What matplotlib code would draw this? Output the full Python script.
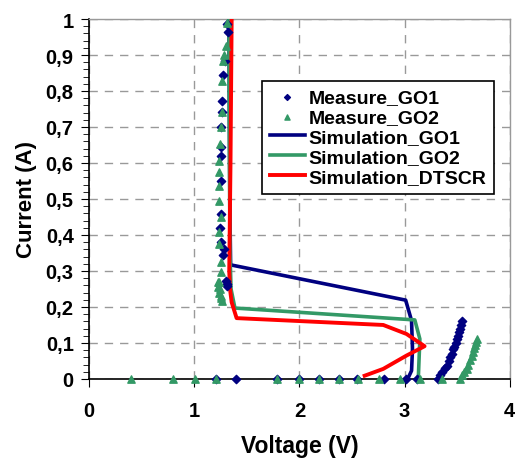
import numpy as np
import matplotlib.pyplot as plt
from matplotlib.ticker import MultipleLocator, FuncFormatter

plt.rcParams['font.family'] = ['Liberation Sans', 'DejaVu Sans']
plt.rcParams['font.weight'] = 'bold'

# measured data, GO1 (diamonds)
meas_go1_v = [1.308, 1.317, 1.292, 1.276, 1.267, 1.26, 1.254, 1.251, 1.254, 1.257,
              1.251, 1.245, 1.25, 1.283, 1.27, 1.30, 1.31, 1.315,
              1.207, 1.397, 1.79, 1.995, 2.185, 2.378, 2.543, 2.80, 3.01, 3.12,
              3.32, 3.34, 3.36, 3.38, 3.40, 3.42, 3.43, 3.45, 3.46, 3.47, 3.49,
              3.50, 3.51, 3.52, 3.53, 3.54, 3.55]
meas_go1_i = [0.986, 0.963, 0.884, 0.844, 0.773, 0.741, 0.70, 0.644, 0.62, 0.551,
              0.458, 0.419, 0.38, 0.361, 0.343, 0.273, 0.264, 0.257,
              0.0, 0.0, 0.0, 0.0, 0.0, 0.0, 0.0, 0.0, 0.0, 0.0,
              0.0, 0.01, 0.02, 0.03, 0.037, 0.05, 0.06, 0.07, 0.083, 0.09, 0.10,
              0.11, 0.12, 0.13, 0.14, 0.15, 0.16]

# measured data, GO2 (triangles)
meas_go2_v = [1.308, 1.30, 1.286, 1.276, 1.267, 1.26, 1.25, 1.245, 1.238, 1.235,
              1.238, 1.235, 1.254, 1.238, 1.235, 1.254, 1.25, 1.238, 1.245, 1.254,
              1.263, 1.226, 1.23, 1.24, 1.25,
              0.40, 0.795, 1.007, 1.207, 1.79, 1.995, 2.185, 2.378, 2.56, 2.755,
              2.96, 3.15, 3.357,
              3.525, 3.545, 3.565, 3.59, 3.605, 3.62, 3.636, 3.65, 3.66, 3.67, 3.68, 3.69]
meas_go2_i = [0.99, 0.926, 0.90, 0.882, 0.829, 0.741, 0.70, 0.653, 0.606, 0.574,
              0.537, 0.495, 0.449, 0.407, 0.375, 0.324, 0.296, 0.269, 0.25, 0.231,
              0.217, 0.27, 0.255, 0.24, 0.225,
              0.0, 0.0, 0.0, 0.0, 0.0, 0.0, 0.0, 0.0, 0.0, 0.0,
              0.0, 0.0, 0.0,
              0.0, 0.01, 0.02, 0.028, 0.04, 0.052, 0.065, 0.075, 0.085, 0.095, 0.104, 0.111]

# simulations
sim_go1_v = [1.33, 1.335, 1.34, 1.346, 3.01, 3.066, 3.075, 3.066, 3.034, 3.01]
sim_go1_i = [1.0, 0.7, 0.45, 0.317, 0.219, 0.162, 0.083, 0.023, 0.003, 0.0]

sim_go2_v = [1.33, 1.335, 1.34, 1.35, 1.387, 3.097, 3.145, 3.13]
sim_go2_i = [1.0, 0.6, 0.35, 0.25, 0.197, 0.164, 0.111, 0.0]

sim_dtscr_v = [1.356, 1.345, 1.333, 1.34, 1.356, 1.403, 2.797, 3.018, 3.19, 3.018, 2.797, 2.62]
sim_dtscr_i = [1.0, 0.6, 0.3, 0.25, 0.213, 0.169, 0.15, 0.125, 0.091, 0.065, 0.028, 0.009]

navy = '#000080'
green = '#339966'
red = '#ff0000'

fig = plt.figure(figsize=(5.16, 4.6), dpi=100)
ax = fig.add_axes([0.1725, 0.174, 0.8155, 0.7825])

ax.plot(sim_go1_v, sim_go1_i, color=navy, lw=2.6, label='Simulation_GO1', zorder=3)
ax.plot(sim_go2_v, sim_go2_i, color=green, lw=2.6, label='Simulation_GO2', zorder=3)
ax.plot(sim_dtscr_v, sim_dtscr_i, color=red, lw=2.8, label='Simulation_DTSCR', zorder=4)
ax.scatter(meas_go1_v, meas_go1_i, marker='D', s=18, color=navy, label='Measure_GO1', zorder=5, clip_on=False)
ax.scatter(meas_go2_v, meas_go2_i, marker='^', s=28, color=green, label='Measure_GO2', zorder=5, clip_on=False)

ax.set_xlim(0, 4)
ax.set_ylim(0, 1)
ax.xaxis.set_major_locator(MultipleLocator(1))
ax.yaxis.set_major_locator(MultipleLocator(0.1))
ax.yaxis.set_minor_locator(MultipleLocator(0.02))
ax.yaxis.set_major_formatter(FuncFormatter(lambda v, p: ('%g' % round(v, 2)).replace('.', ',')))

ax.grid(True, which='major', color='#999999', linestyle=(0, (6, 5)), lw=1)
ax.set_axisbelow(True)

for s in ['top', 'right']:
    ax.spines[s].set_color('#999999')
    ax.spines[s].set_linewidth(1)
for s in ['left', 'bottom']:
    ax.spines[s].set_linewidth(1.2)

ax.tick_params(axis='both', which='major', direction='out', length=6, labelsize=14.5)
ax.tick_params(axis='x', which='major', pad=10)
ax.tick_params(axis='y', which='major', pad=5)
ax.tick_params(axis='y', which='minor', direction='out', length=4)
for lab in ax.get_xticklabels() + ax.get_yticklabels():
    lab.set_fontweight('bold')

ax.set_xlabel('Voltage (V)', fontsize=16.5, fontweight='bold', labelpad=10)
ax.set_ylabel('Current (A)', fontsize=16, fontweight='bold', labelpad=6)

handles, labels = ax.get_legend_handles_labels()
order = [3, 4, 0, 1, 2]
leg = ax.legend([handles[i] for i in order], [labels[i] for i in order],
                loc='upper left', bbox_to_anchor=(0.411, 0.828), frameon=True,
                fancybox=False, edgecolor='black', framealpha=1,
                prop={'size': 14, 'weight': 'bold'}, handlelength=1.8,
                handletextpad=0.2, borderpad=0.4, labelspacing=0.12, markerscale=0.7,
                borderaxespad=0)
leg.get_frame().set_linewidth(1.2)

fig.savefig('out.png', dpi=100)
